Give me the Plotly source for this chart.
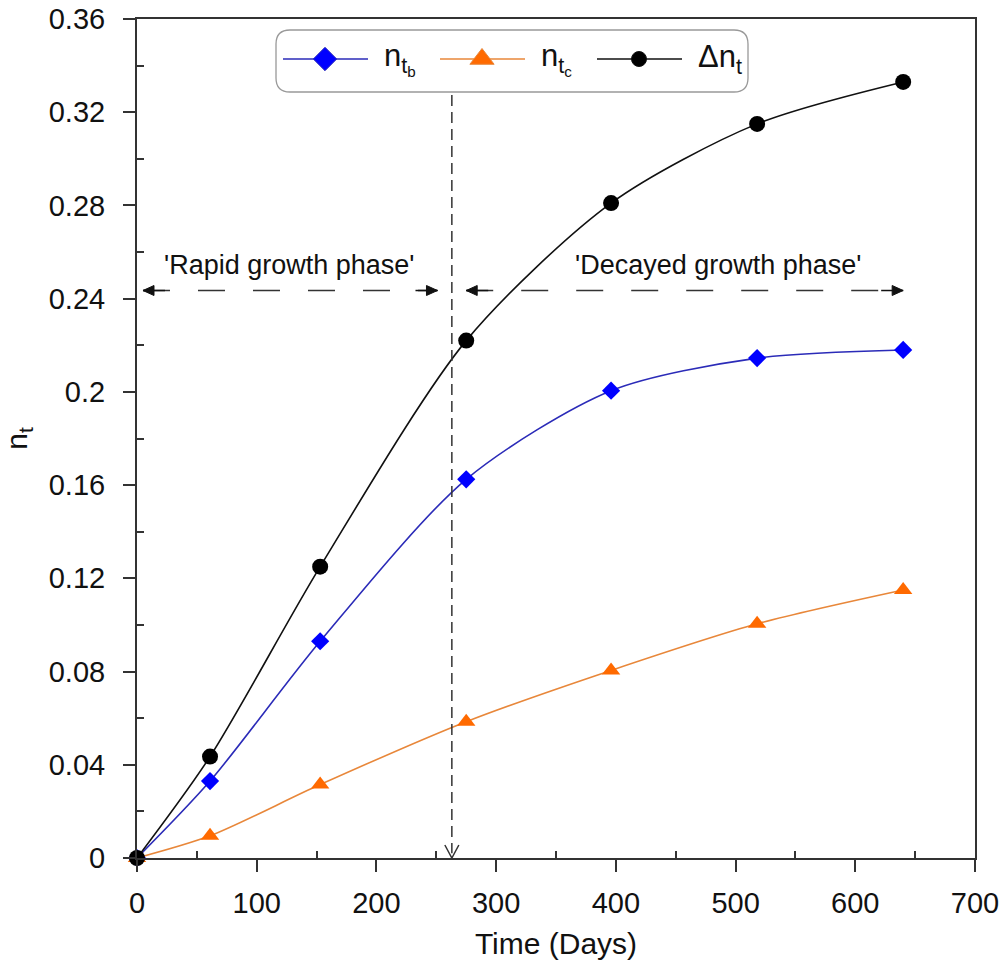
import plotly.graph_objects as go

# ---- data ----
days = [0, 61, 153, 275, 396, 518, 640]
n_tb = [0, 0.033, 0.093, 0.1625, 0.2005, 0.2145, 0.218]
n_tc = [0, 0.0095, 0.0315, 0.0585, 0.0805, 0.1005, 0.115]
delta_nt = [0, 0.0435, 0.125, 0.222, 0.281, 0.315, 0.333]

y_tickvals = [0, 0.04, 0.08, 0.12, 0.16, 0.2, 0.24, 0.28, 0.32, 0.36]
y_ticktext = ["0", "0.04", "0.08", "0.12", "0.16", "0.2", "0.24", "0.28", "0.32", "0.36"]
x_tickvals = [0, 100, 200, 300, 400, 500, 600, 700]

split_day = 263
arrow_y = 0.2435
rapid_range = [5, 251]
decay_range = [275, 640]

FONT = "Liberation Sans, Arial, sans-serif"
AX = "#333333"

fig = go.Figure()

fig.add_trace(go.Scatter(x=days, y=n_tc, mode="lines+markers", name="n_tc", cliponaxis=False,
                         line=dict(color="#e8873a", width=1.6, shape="spline", smoothing=0.8),
                         marker=dict(symbol="triangle-up", size=16, color="#ff6a00", opacity=1),
                         showlegend=False))
fig.add_trace(go.Scatter(x=days, y=n_tb, mode="lines+markers", name="n_tb", cliponaxis=False,
                         line=dict(color="#2b2bb8", width=1.6, shape="spline", smoothing=0.8),
                         marker=dict(symbol="diamond", size=14, color="#0000ff", opacity=1),
                         showlegend=False))
fig.add_trace(go.Scatter(x=days, y=delta_nt, mode="lines+markers", name="Δn_t", cliponaxis=False,
                         line=dict(color="#111111", width=1.6, shape="spline", smoothing=0.8),
                         marker=dict(symbol="circle", size=16, color="#000000", opacity=1),
                         showlegend=False))

# ---- custom legend on a pixel-coordinate overlay axis ----
leg_items = [
    ("#2b2bb8", "#0000ff", "diamond", 18, 283, "n<sub>t<sub>b</sub></sub>"),
    ("#e8873a", "#ff6a00", "triangle-up", 21, 440, "n<sub>t<sub>c</sub></sub>"),
    ("#111111", "#000000", "circle", 15, 597, "Δn<sub>t</sub>"),
]
leg_y = 59
for lc, mc, sym, sz, x0, txt in leg_items:
    fig.add_trace(go.Scatter(x=[x0, x0 + 42, x0 + 85], y=[leg_y] * 3, xaxis="x2", yaxis="y2",
                             mode="lines+markers", showlegend=False, hoverinfo="skip",
                             line=dict(color=lc, width=1.6),
                             marker=dict(symbol=sym, size=[0, sz, 0], color=mc, opacity=1)))
    fig.add_annotation(x=x0 + 99, y=leg_y, xref="x2", yref="y2", text=txt, showarrow=False,
                       xanchor="left", yanchor="middle", font=dict(size=31, color="#111", family=FONT))

# rounded legend box
bx0, bx1, by0, by1, r = 276, 748, 30, 92, 14
path = (f"M{bx0+r},{by0} L{bx1-r},{by0} Q{bx1},{by0} {bx1},{by0+r} L{bx1},{by1-r} "
        f"Q{bx1},{by1} {bx1-r},{by1} L{bx0+r},{by1} Q{bx0},{by1} {bx0},{by1-r} "
        f"L{bx0},{by0+r} Q{bx0},{by0} {bx0+r},{by0} Z")
fig.add_shape(type="path", path=path, xref="x2", yref="y2",
              line=dict(color="#999999", width=1.3), fillcolor="rgba(0,0,0,0)")

# vertical dashed separator with open arrowhead
fig.add_shape(type="line", x0=split_day, x1=split_day, y0=0.3274, y1=0.002,
              line=dict(color=AX, width=1.5, dash="11px,6px"))
fig.add_shape(type="path", xref="x", yref="y", xsizemode="pixel", ysizemode="pixel",
              xanchor=split_day, yanchor=0, path="M-7,13 L0,0 L7,13",
              line=dict(color=AX, width=1.5))

# horizontal dashed double arrows (dashed body + solid arrow ends)
for xa, xb in (rapid_range, decay_range):
    fig.add_shape(type="line", x0=xa, x1=xb, y0=arrow_y, y1=arrow_y,
                  line=dict(color=AX, width=1.5, dash="27px,28px"))
    for anchor, sgn in ((xa, 1), (xb, -1)):
        fig.add_shape(type="line", xref="x", yref="y", xsizemode="pixel", xanchor=anchor,
                      x0=0, x1=sgn * 22, y0=arrow_y, y1=arrow_y,
                      line=dict(color="#111", width=1.5))
        fig.add_shape(type="path", xref="x", yref="y", xsizemode="pixel", ysizemode="pixel",
                      xanchor=anchor, yanchor=arrow_y,
                      path=f"M0,0 L{sgn*11},5 L{sgn*11},-5 Z",
                      line=dict(color="#111", width=1), fillcolor="#111")

fig.add_annotation(x=127, y=0.2545, text="'Rapid growth phase'", showarrow=False,
                   font=dict(size=27, color="#111", family=FONT))
fig.add_annotation(x=485, y=0.2545, text="'Decayed growth phase'", showarrow=False,
                   font=dict(size=27, color="#111", family=FONT))

fig.update_layout(
    width=1008, height=973,
    margin=dict(l=137, r=33, t=19, b=115),
    plot_bgcolor="white", paper_bgcolor="white",
    font=dict(family=FONT, size=29, color="#111"),
    showlegend=False,
    xaxis=dict(range=[0, 700], tickvals=x_tickvals, ticks="outside", ticklen=12, tickwidth=1.5,
               tickcolor=AX, showline=True, linecolor=AX, linewidth=2, mirror=True,
               showgrid=False, zeroline=False, automargin=False, ticklabelstandoff=6,
               minor=dict(ticks="inside", tickvals=[50, 150, 250, 350, 450, 550, 650],
                          ticklen=7, tickwidth=1.5, tickcolor=AX, showgrid=False),
               title=dict(text="Time (Days)", font=dict(size=30), standoff=15)),
    yaxis=dict(range=[0, 0.36], tickvals=y_tickvals, ticktext=y_ticktext, ticks="outside",
               ticklen=12, tickwidth=1.5, tickcolor=AX, showline=True, linecolor=AX, linewidth=2,
               mirror=True, showgrid=False, zeroline=False, automargin=False, ticklabelstandoff=12,
               minor=dict(ticks="inside", tickvals=[0.02, 0.06, 0.1, 0.14, 0.18, 0.22, 0.26, 0.3, 0.34],
                          ticklen=7, tickwidth=1.5, tickcolor=AX, showgrid=False),
               title=dict(text="n<sub>t</sub>", font=dict(size=30), standoff=18)),
    xaxis2=dict(overlaying="x", range=[137, 975], visible=False, fixedrange=True),
    yaxis2=dict(overlaying="y", range=[858, 19], visible=False, fixedrange=True),
)

fig.write_html("out.html")
